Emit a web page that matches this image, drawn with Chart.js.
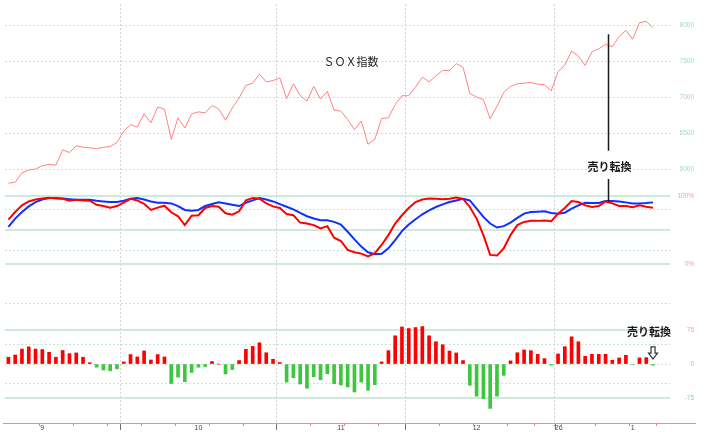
<!DOCTYPE html>
<html>
<head>
<meta charset="utf-8">
<script src="https://cdn.jsdelivr.net/npm/chart.js@4.4.1/dist/chart.umd.min.js"></script>
<style>
  html, body { margin: 0; padding: 0; background: #fff; }
  #wrap { width: 706px; height: 432px; }
</style>
</head>
<body>
<div id="wrap"><canvas id="chart" width="706" height="432"></canvas></div>
<script>
// 営業日 (最後の2日はまだデータなし)
const days = [
    '9/8', '9/9', '9/10', '9/11', '9/12', '9/15', '9/16', '9/17', '9/18', '9/19', '9/22', '9/23', '9/24', '9/25', '9/26', '9/29', '9/30',
    '10/1', '10/2', '10/3', '10/6', '10/7', '10/8', '10/9', '10/10', '10/13', '10/14', '10/15', '10/16', '10/17', '10/20', '10/21', '10/22', '10/23', '10/24', '10/27', '10/28', '10/29', '10/30', '10/31',
    '11/3', '11/4', '11/5', '11/6', '11/7', '11/10', '11/11', '11/12', '11/13', '11/14', '11/17', '11/18', '11/19', '11/20', '11/21', '11/24', '11/25', '11/26', '11/28',
    '12/1', '12/2', '12/3', '12/4', '12/5', '12/8', '12/9', '12/10', '12/11', '12/12', '12/15', '12/16', '12/17', '12/18', '12/19', '12/22', '12/23', '12/24', '12/26', '12/29', '12/30', '12/31',
    '1/2', '1/5', '1/6', '1/7', '1/8', '1/9', '1/12', '1/13', '1/14', '1/15', '1/16', '1/20', '1/21', '1/22', '1/23', '1/26', '1/27',
];

const sox = [
    5803, 5816, 5945, 5986, 6000, 6047, 6065, 6056, 6268, 6231,
    6324, 6304, 6296, 6286, 6304, 6314, 6369, 6531, 6622, 6586,
    6770, 6646, 6863, 6839, 6415, 6715, 6572, 6770, 6798, 6784,
    6885, 6839, 6683, 6853, 6990, 7167, 7198, 7327, 7217, 7235,
    7272, 6982, 7189, 7023, 6950, 7152, 6977, 7083, 6821, 6807,
    6692, 6549, 6669, 6346, 6415, 6706, 6715, 6899, 7023, 7023,
    7143, 7281, 7217, 7300, 7378, 7374, 7470, 7420, 7055, 7005,
    6968, 6701, 6876, 7070, 7153, 7189, 7198, 7208, 7185, 7175,
    7092, 7360, 7451, 7645, 7576, 7447, 7636, 7678, 7742, 7705,
    7852, 7935, 7811, 8041, 8059, 7972,
];

// 赤 = %K, 青 = %D
const kLine = [
    65.8, 77, 86.8, 92.6, 95.5, 97, 98, 97, 96.5, 93.6,
    95, 94.1, 93.6, 87.7, 85.8, 83.4, 85.8, 90.7, 96.5, 94.1,
    89.2, 80, 83.4, 86.3, 76.6, 70.7, 57.6, 71.6, 72.2, 82.9,
    85.8, 84.8, 75.1, 73.1, 78, 94.1, 97.5, 96.5, 89.7, 85.3,
    82.9, 74.1, 72.2, 61.4, 60, 57.6, 52.7, 56.1, 39, 34.2,
    21, 17.6, 15.6, 11.3, 16.1, 28.3, 42.9, 60, 72.2, 82.9,
    91.7, 95.5, 97, 96.5, 96, 96.5, 98.5, 96.5, 84.4, 67.3,
    42.9, 13.7, 12.7, 23.4, 42.9, 57.6, 62.4, 63.9, 63.9, 64.3,
    63.4, 74.6, 82.9, 93.1, 91.7, 86.8, 84.4, 85.8, 92.6, 89.7,
    85.8, 85.8, 83.9, 86.8, 84.8, 83.4,
];
const dLine = [
    55.1, 67.3, 77, 85.3, 91.7, 95.5, 97.5, 97.5, 97, 96,
    95, 95, 95, 93.6, 92.6, 91.7, 91.7, 93.6, 96.5, 97.5,
    95.5, 92.6, 90.7, 90.7, 89.7, 85.8, 80, 79, 80, 85.8,
    88.7, 91.2, 89.7, 87.7, 85.8, 90.7, 94.1, 97.5, 95.5, 92.6,
    88.7, 84.8, 80.9, 75.6, 70.7, 67.3, 64.9, 64.9, 62.4, 58.5,
    47.8, 36.5, 25.9, 17.6, 14.6, 15.2, 23.4, 35.6, 48.8, 58.5,
    66.3, 73.6, 79.5, 84.4, 88.2, 91.7, 94.1, 96.5, 94, 81.9,
    69.7, 60, 54.1, 56.1, 61.4, 68.3, 74.6, 77, 77.5, 78,
    75.6, 74.6, 76, 81.9, 86.8, 90.7, 90.2, 90.2, 93.1, 93.1,
    92.6, 91.2, 89.7, 89.7, 90.2, 91.2,
];
const hist = [
    15, 20, 33, 38, 33, 32, 26, 15, 30, 23,
    24.5, 15, 3, -7, -13, -15, -10.6, 4.7, 21, 15.7,
    29, 9, 21, 15.7, -43, -29, -39, -18.6, -7, -5.5,
    5.5, 0, -22, -12, 7.7, 32.5, 39, 47, 25, 10.6,
    3.3, -40, -30, -44, -53.6, -28, -34.7, -21.5, -43.4, -46.4,
    -50.7, -61.7, -39.8, -58, -45.6, 4.7, 29.6, 62.4, 82, 78.5,
    80.7, 82.8, 62.4, 49.3, 42.7, 28.8, 24.5, 7.7, -47, -71,
    -76.3, -98, -71, -25, 7, 25, 31, 29.6, 21.5, 12,
    -2.5, 22.3, 38.3, 60.2, 49.3, 17, 21.5, 21.5, 21.5, 8.4,
    13.5, 19.3, -1.1, 13.5, 14.2, -2.5,
];

// 目盛り
const tickIndex = [5, 28, 49, 69, 81, 92];
const tickText = ['9', '10', '11', '12', "'26", '1'];
const monthStarts = [17, 40, 59, 81];
const weekStarts = [5, 10, 15, 20, 25, 30, 35, 45, 50, 55, 64, 69, 74, 78, 82, 87, 92, 96];
const priceTicks = [6000, 6500, 7000, 7500, 8000];
const oscTicks = [-58, 0, 20, 50, 80, 100];
const histTicks = [-75, -44, 0, 44, 75];
const sellIndex = 88;

Chart.defaults.font.family = "'Liberation Sans', Arial, sans-serif";

function paneAxis(weight, min, max, values, solid, label, color) {
    return {
        position: 'right',
        stack: 'panes',
        stackWeight: weight,
        min,
        max,
        afterBuildTicks: ax => { ax.ticks = values.map(v => ({ value: v })); },
        afterFit: ax => { ax.width = 24; },
        grid: {
            drawTicks: false,
            color: c => solid.includes(c.tick.value) ? '#d0e9dd' : '#c6e4d4',
            lineWidth: c => solid.includes(c.tick.value) ? 2 : 1,
        },
        border: { display: false, dash: c => solid.includes(c.tick.value) ? [] : [2, 2] },
        ticks: {
            autoSkip: false,
            crossAlign: 'far',
            padding: 0,
            font: { size: 6.5 },
            color,
            callback: label,
        },
    };
}

const overlay = {
    id: 'overlay',
    afterDatasetsDraw(chart) {
        const { ctx, chartArea: area } = chart;
        const { x, yP, yS, yH } = chart.scales;
        ctx.save();

        // 下の軸線 (プロットより少し右まで伸びる)
        ctx.strokeStyle = '#aaa7b5';
        ctx.lineWidth = 1;
        ctx.beginPath();
        ctx.moveTo(area.left - 2, area.bottom + 0.5);
        ctx.lineTo(chart.width - 10, area.bottom + 0.5);
        ctx.stroke();

        const tick = (i, len, color) => {
            const px = Math.round(x.getPixelForValue(i - 0.5)) + 0.5;
            ctx.strokeStyle = color;
            ctx.beginPath();
            ctx.moveTo(px, area.bottom + 1);
            ctx.lineTo(px, area.bottom + 1 + len);
            ctx.stroke();
        };
        weekStarts.forEach(i => tick(i, 2, '#ff7a7a'));
        monthStarts.forEach(i => tick(i, 6, '#707070'));

        ctx.fillStyle = '#222';
        ctx.textAlign = 'center';
        ctx.textBaseline = 'middle';
        ctx.font = "11px 'Noto Sans CJK JP'";
        ctx.fillText('ＳＯＸ指数', x.getPixelForValue(50.5), yP.getPixelForValue(7500));

        // 売り転換の縦線
        const sx = Math.round(x.getPixelForValue(sellIndex + 0.35)) + 0.5;
        ctx.strokeStyle = '#1a1a1a';
        ctx.lineWidth = 1.5;
        ctx.beginPath();
        ctx.moveTo(sx, yP.getPixelForValue(7880));
        ctx.lineTo(sx, yP.getPixelForValue(6255));
        ctx.moveTo(sx, yP.getPixelForValue(5862));
        ctx.lineTo(sx, yS.getPixelForValue(kLine[sellIndex]));
        ctx.stroke();

        ctx.font = "bold 11px 'Noto Sans CJK JP'";
        ctx.fillStyle = '#1a1a1a';
        ctx.fillText('売り転換', x.getPixelForValue(sellIndex + 0.6), yP.getPixelForValue(6028));
        ctx.fillText('売り転換', x.getPixelForValue(94.4), yH.getPixelForValue(70.5));

        // 白抜きの下向き矢印
        const ax = x.getPixelForValue(95);
        const top = yH.getPixelForValue(38);
        const tip = yH.getPixelForValue(11);
        const neck = tip - 6;
        ctx.lineWidth = 1.2;
        ctx.strokeStyle = '#333';
        ctx.beginPath();
        ctx.moveTo(ax - 2, top);
        ctx.lineTo(ax + 2, top);
        ctx.lineTo(ax + 2, neck);
        ctx.lineTo(ax + 4.5, neck);
        ctx.lineTo(ax, tip);
        ctx.lineTo(ax - 4.5, neck);
        ctx.lineTo(ax - 2, neck);
        ctx.closePath();
        ctx.stroke();

        ctx.restore();
    },
};

new Chart(document.getElementById('chart'), {
    type: 'bar',
    data: {
        labels: days,
        datasets: [
            {
                type: 'line',
                label: 'SOX',
                data: sox,
                yAxisID: 'yP',
                borderColor: '#ff8282',
                borderWidth: 1,
                pointRadius: 0,
                tension: 0,
            },
            {
                type: 'line',
                label: '%K',
                data: kLine,
                yAxisID: 'yS',
                borderColor: '#ff0000',
                borderWidth: 2,
                pointRadius: 0,
                tension: 0,
            },
            {
                type: 'line',
                label: '%D',
                data: dLine,
                yAxisID: 'yS',
                borderColor: '#1030ff',
                borderWidth: 2,
                pointRadius: 0,
                tension: 0,
            },
            {
                type: 'bar',
                label: 'hist',
                data: hist,
                yAxisID: 'yH',
                backgroundColor: hist.map(v => v >= 0 ? '#ff0000' : '#3ec63e'),
                barThickness: 3,
                borderWidth: 0,
            },
        ],
    },
    options: {
        responsive: false,
        animation: false,
        devicePixelRatio: 1,
        layout: { padding: { left: 5, right: 12, top: 0, bottom: 0 } },
        plugins: {
            legend: { display: false },
            tooltip: { enabled: false },
        },
        scales: {
            x: {
                offset: true,
                afterFit: ax => { ax.height = 9; },
                grid: {
                    offset: true,
                    drawTicks: false,
                    color: c => monthStarts.includes(c.index) ? '#d8cad6' : 'rgba(0,0,0,0)',
                    lineWidth: 1,
                },
                border: { display: false, dash: [2, 2] },
                ticks: {
                    autoSkip: false,
                    maxRotation: 0,
                    padding: 1,
                    color: '#444',
                    font: { size: 7 },
                    callback: (v, i) => {
                        const k = tickIndex.indexOf(i);
                        return k >= 0 ? tickText[k] : '';
                    },
                },
            },
            yP: paneAxis(190, 5678, 8304, priceTicks, [], v => String(v), '#a6d6c0'),
            yS: paneAxis(125, -76.5, 106.3, oscTicks, [0, 50, 100],
                v => v === 100 ? '100%' : v === 0 ? '0%' : '', '#ff9c9c'),
            yH: paneAxis(108, -130.3, 106.2, histTicks, [-75, 75],
                v => (v === 75 || v === 0 || v === -75) ? String(v) : '',
                c => c.tick.value < 0 ? '#8fd3a5' : '#ff9c9c'),
        },
    },
    plugins: [overlay],
});
</script>
</body>
</html>
